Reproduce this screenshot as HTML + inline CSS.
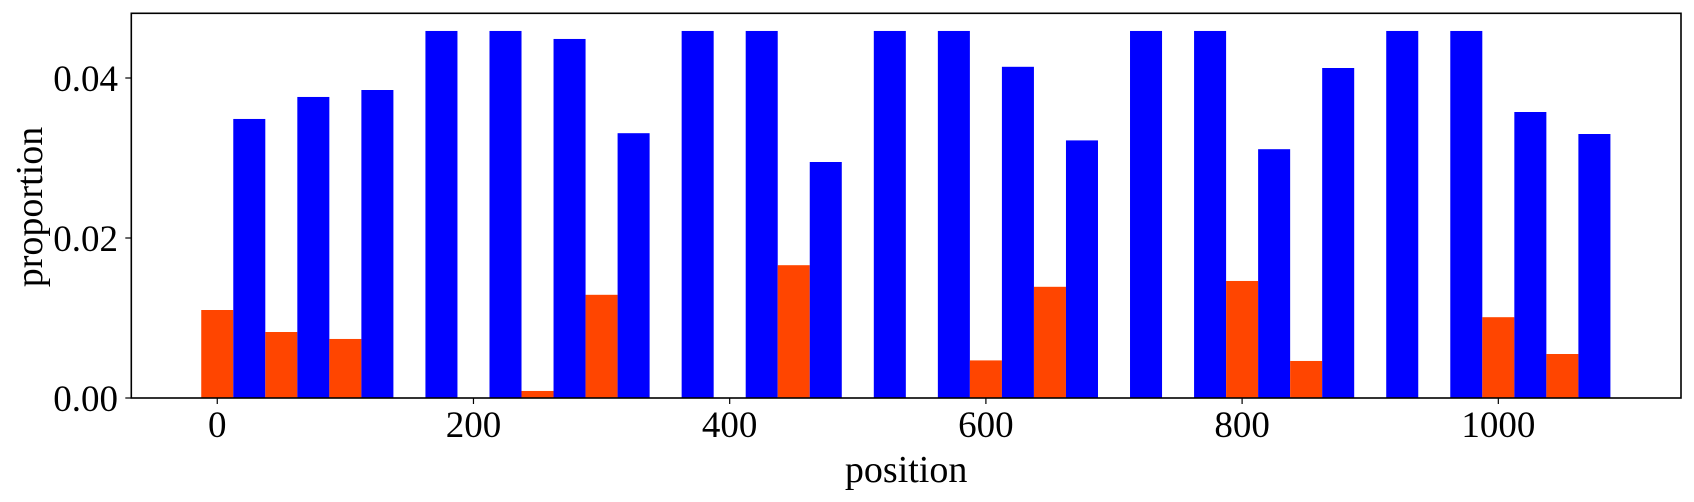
<!DOCTYPE html>
<html><head><meta charset="utf-8"><style>
html,body{margin:0;padding:0;background:#fff;}
svg text{font-family:"Liberation Serif","DejaVu Serif",serif;fill:#000;}
</style></head><body>
<svg id="chart" width="1694" height="497" viewBox="0 0 1694 497" xmlns="http://www.w3.org/2000/svg"></svg>
<script>
const positions = [0,50,100,150,200,250,300,350,400,450,500,550,600,650,700,750,800,850,900,950,1000,1050];
const orangeValues = [0.0110,0.00825,0.00738,0,0,0.00088,0.0129,0,0,0.0166,0,0,0.0047,0.0139,0,0,0.01463,0.00463,0,0,0.0101,0.0055];
const blueValues = [0.03488,0.03763,0.0385,0.04588,0.04588,0.04488,0.0331,0.04588,0.04588,0.0295,0.04588,0.04588,0.0414,0.0322,0.04588,0.04588,0.0311,0.04125,0.04588,0.04588,0.03575,0.033];
const xTicks = [0,200,400,600,800,1000];
const yTicks = [0,0.02,0.04];
const yTickLabels = ["0.00","0.02","0.04"];

const L=131.3,R=1681,T=13.3,B=398;
const xMin=-67.1,xMax=1142.6,yMax=(B-T)/8000;
const xs=v=>L+(v-xMin)/(xMax-xMin)*(R-L);
const ys=v=>B-v/yMax*(B-T);
const barW=25;
const svg=document.getElementById('chart');
const NS='http://www.w3.org/2000/svg';
function mk(tag,attrs,parent){const e=document.createElementNS(NS,tag);for(const k in attrs)e.setAttribute(k,attrs[k]);(parent||svg).appendChild(e);return e;}

const bars=mk('g',{});


positions.forEach((p,i)=>{
  const o=orangeValues[i];
  if(o>0){
    const r=mk('rect',{x:xs(p-barW/2),y:ys(o),width:xs(p+barW/2)-xs(p-barW/2),height:ys(0)-ys(o),fill:'#ff4500'},bars);
    
    
  }
  const b=blueValues[i], c=p+25;
  const r2=mk('rect',{x:xs(c-barW/2),y:ys(b),width:xs(c+barW/2)-xs(c-barW/2),height:ys(0)-ys(b),fill:'#0000ff'},bars);
  
  
});

const frame=mk('rect',{x:L,y:T,width:R-L,height:B-T,fill:'none',stroke:'#000','stroke-width':1.6});



xTicks.forEach(t=>{
  const x=xs(t);
  const ln=mk('line',{x1:x,y1:B,x2:x,y2:B+6,stroke:'#000','stroke-width':1.2});
  
  
  const tx=mk('text',{x:x,y:437,'font-size':37,'text-anchor':'middle'});
  tx.textContent=String(t);
  
  
});
yTicks.forEach((t,i)=>{
  const y=ys(t);
  const ln=mk('line',{x1:L-6,y1:y,x2:L,y2:y,stroke:'#000','stroke-width':1.2});
  
  
  const tx=mk('text',{x:118,y:y+13,'font-size':37,'text-anchor':'end'});
  tx.textContent=yTickLabels[i];
  
  
});
const xl=mk('text',{x:(L+R)/2,y:482,'font-size':38,'text-anchor':'middle'});
xl.textContent='position';


const yl=mk('text',{x:0,y:0,'font-size':38,'text-anchor':'middle',transform:'translate(42,207) rotate(-90)'});
yl.textContent='proportion';


</script>
</body></html>
